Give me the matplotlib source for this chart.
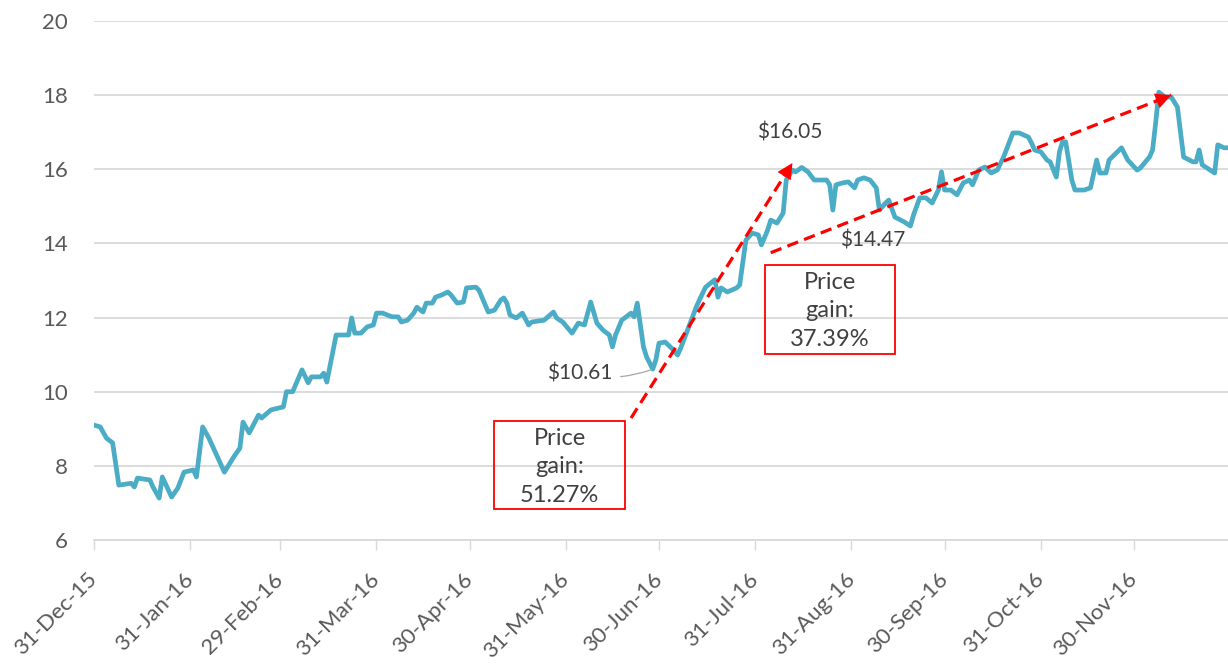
import matplotlib
matplotlib.use("Agg")
import matplotlib.pyplot as plt
import matplotlib.dates as mdates
from matplotlib.patches import Rectangle
import pandas as pd

plt.rcParams["font.family"] = ["Lato", "DejaVu Sans"]

# price series
dates = [
    "2015-12-31", "2016-01-02", "2016-01-04", "2016-01-06", "2016-01-08", "2016-01-12",
    "2016-01-13", "2016-01-14", "2016-01-18", "2016-01-19", "2016-01-21", "2016-01-22",
    "2016-01-25", "2016-01-27", "2016-01-29", "2016-02-01", "2016-02-02", "2016-02-04",
    "2016-02-06", "2016-02-11", "2016-02-14", "2016-02-16", "2016-02-17", "2016-02-19",
    "2016-02-22", "2016-02-23", "2016-02-26", "2016-03-01", "2016-03-02", "2016-03-04",
    "2016-03-07", "2016-03-09", "2016-03-10", "2016-03-13", "2016-03-14", "2016-03-15",
    "2016-03-18", "2016-03-22", "2016-03-23", "2016-03-24", "2016-03-26", "2016-03-28",
    "2016-03-30", "2016-03-31", "2016-04-02", "2016-04-05", "2016-04-07", "2016-04-08",
    "2016-04-10", "2016-04-12", "2016-04-13", "2016-04-15", "2016-04-16", "2016-04-18",
    "2016-04-19", "2016-04-21", "2016-04-23", "2016-04-24", "2016-04-26", "2016-04-28",
    "2016-04-29", "2016-05-02", "2016-05-03", "2016-05-06", "2016-05-08", "2016-05-10",
    "2016-05-11", "2016-05-12", "2016-05-13", "2016-05-15", "2016-05-17", "2016-05-19",
    "2016-05-20", "2016-05-24", "2016-05-27", "2016-05-28", "2016-05-30", "2016-06-02",
    "2016-06-04", "2016-06-06", "2016-06-08", "2016-06-10", "2016-06-12", "2016-06-14",
    "2016-06-15", "2016-06-16", "2016-06-18", "2016-06-21", "2016-06-22", "2016-06-23",
    "2016-06-25", "2016-06-26", "2016-06-28", "2016-06-29", "2016-06-30", "2016-07-02",
    "2016-07-04", "2016-07-06", "2016-07-07", "2016-07-12", "2016-07-13", "2016-07-15",
    "2016-07-18", "2016-07-19", "2016-07-20", "2016-07-22", "2016-07-25", "2016-07-26",
    "2016-07-28", "2016-07-30", "2016-08-01", "2016-08-02", "2016-08-04", "2016-08-05",
    "2016-08-07", "2016-08-09", "2016-08-10", "2016-08-12", "2016-08-13", "2016-08-15",
    "2016-08-17", "2016-08-19", "2016-08-23", "2016-08-24", "2016-08-25", "2016-08-26",
    "2016-08-28", "2016-08-30", "2016-09-01", "2016-09-02", "2016-09-04", "2016-09-06",
    "2016-09-08", "2016-09-09", "2016-09-11", "2016-09-12", "2016-09-14", "2016-09-17",
    "2016-09-19", "2016-09-20", "2016-09-22", "2016-09-24", "2016-09-26", "2016-09-28",
    "2016-09-29", "2016-09-30", "2016-10-02", "2016-10-04", "2016-10-06", "2016-10-08",
    "2016-10-09", "2016-10-11", "2016-10-13", "2016-10-15", "2016-10-17", "2016-10-19",
    "2016-10-22", "2016-10-24", "2016-10-27", "2016-10-28", "2016-10-29", "2016-10-31",
    "2016-11-02", "2016-11-03", "2016-11-05", "2016-11-06", "2016-11-07", "2016-11-08",
    "2016-11-10", "2016-11-11", "2016-11-14", "2016-11-16", "2016-11-18", "2016-11-19",
    "2016-11-21", "2016-11-22", "2016-11-26", "2016-11-28", "2016-12-01", "2016-12-02",
    "2016-12-05", "2016-12-06", "2016-12-07", "2016-12-08", "2016-12-10", "2016-12-12",
    "2016-12-14", "2016-12-16", "2016-12-19", "2016-12-20", "2016-12-21", "2016-12-22",
    "2016-12-26", "2016-12-27", "2016-12-29", "2016-12-30",
]
prices = [
    9.10, 9.05, 8.75, 8.62, 7.48, 7.53, 7.43, 7.67, 7.62, 7.43, 7.13, 7.70,
    7.16, 7.40, 7.83, 7.89, 7.70, 9.05, 8.75, 7.83, 8.24, 8.48, 9.18, 8.89,
    9.37, 9.29, 9.51, 9.59, 10.00, 10.00, 10.59, 10.24, 10.40, 10.40, 10.50, 10.26,
    11.53, 11.53, 11.99, 11.58, 11.58, 11.75, 11.80, 12.12, 12.12, 12.02, 12.02, 11.88,
    11.93, 12.12, 12.28, 12.15, 12.39, 12.39, 12.55, 12.61, 12.69, 12.61, 12.39, 12.42,
    12.80, 12.82, 12.74, 12.15, 12.20, 12.47, 12.53, 12.39, 12.07, 11.99, 12.12, 11.80,
    11.88, 11.93, 12.15, 11.99, 11.88, 11.58, 11.85, 11.80, 12.42, 11.85, 11.66, 11.53,
    11.21, 11.53, 11.93, 12.12, 12.02, 12.39, 11.21, 10.94, 10.61, 10.86, 11.31, 11.34,
    11.18, 10.99, 11.18, 12.28, 12.47, 12.82, 13.02, 12.55, 12.80, 12.69, 12.80, 12.88,
    14.09, 14.28, 14.23, 13.96, 14.36, 14.63, 14.55, 14.82, 15.71, 15.98, 15.93, 16.05,
    15.93, 15.71, 15.71, 15.58, 14.90, 15.58, 15.63, 15.66, 15.50, 15.71, 15.77, 15.71,
    15.50, 14.90, 15.09, 15.17, 14.71, 14.58, 14.47, 14.77, 15.23, 15.23, 15.09, 15.44,
    15.93, 15.44, 15.44, 15.31, 15.63, 15.71, 15.58, 15.98, 16.06, 15.90, 15.98, 16.33,
    16.98, 16.98, 16.87, 16.71, 16.52, 16.47, 16.25, 16.20, 15.79, 16.47, 16.74, 16.74,
    15.71, 15.44, 15.44, 15.50, 16.25, 15.90, 15.90, 16.25, 16.58, 16.25, 15.98, 16.03,
    16.33, 16.52, 17.25, 18.08, 17.95, 17.95, 17.68, 16.33, 16.20, 16.20, 16.52, 16.12,
    15.90, 16.66, 16.58, 16.58,
]

tick_dates = ["2015-12-31", "2016-01-31", "2016-02-29", "2016-03-31", "2016-04-30",
              "2016-05-31", "2016-06-30", "2016-07-31", "2016-08-31", "2016-09-30",
              "2016-10-31", "2016-11-30"]
y_ticks = [6, 8, 10, 12, 14, 16, 18, 20]

# trend arrows (start -> tip)
arrow_starts = [("2016-06-21", 9.29), ("2016-08-05", 13.75)]
arrow_tips = [("2016-08-12", 16.17), ("2016-12-12", 18.00)]

# price callouts
price_labels = ["$16.05", "$14.47"]
price_label_pos = [("2016-08-11", 16.98), ("2016-09-07", 14.07)]
low_label = "$10.61"
low_point = ("2016-06-28", 10.61)
low_text_pos = ("2016-06-15", 10.48)

# "Price gain" boxes: (left date, right date, bottom, top)
gain_texts = ["Price\ngain:\n51.27%", "Price\ngain:\n37.39%"]
gain_boxes = [("2016-05-08", "2016-06-19", 6.84, 9.21),
              ("2016-08-03", "2016-09-14", 11.02, 13.42)]
gain_text_y = [7.97, 12.18]

x = pd.to_datetime(dates)

fig = plt.figure(figsize=(12.28, 6.64), dpi=100)
ax = fig.add_axes([94 / 1228, 1 - 540 / 664, 1 - 94 / 1228, 519 / 664])

ax.plot(x, prices, color="#4BACC6", lw=3.4, solid_joinstyle="round", zorder=3)

# dashed trend arrows
for (s_d, s_v), (t_d, t_v) in zip(arrow_starts, arrow_tips):
    s = mdates.date2num(pd.Timestamp(s_d))
    t = mdates.date2num(pd.Timestamp(t_d))
    ax.plot([s, t], [s_v, t_v], color="#FF0000", lw=2.3, ls=(0, (3.6, 2.0)), zorder=4)
    bx = t - 0.04 * (t - s)
    by = t_v - 0.04 * (t_v - s_v)
    ax.annotate("", xy=(t, t_v), xytext=(bx, by),
                arrowprops=dict(arrowstyle="-|>", color="#FF0000", lw=0,
                                mutation_scale=28, shrinkA=0, shrinkB=0), zorder=5)

for txt, (d, v) in zip(price_labels, price_label_pos):
    ax.text(pd.Timestamp(d), v, txt.replace("$", r"\$"), ha="center", va="center",
            fontsize=15, color="#404040", zorder=6)

ax.annotate(low_label.replace("$", r"\$"), xy=(pd.Timestamp(low_point[0]), low_point[1]),
            xytext=(pd.Timestamp(low_text_pos[0]), low_text_pos[1]),
            ha="right", va="center", fontsize=15, color="#404040",
            arrowprops=dict(arrowstyle="-", color="#A6A6A6", lw=0.9,
                            connectionstyle="arc3,rad=0.15", shrinkA=4, shrinkB=1))

for txt, (l, r, b, t), ty in zip(gain_texts, gain_boxes, gain_text_y):
    x0 = mdates.date2num(pd.Timestamp(l))
    x1 = mdates.date2num(pd.Timestamp(r))
    ax.add_patch(Rectangle((x0, b), x1 - x0, t - b, fill=False,
                           edgecolor="#FF0000", lw=1.3, zorder=5))
    ax.text((x0 + x1) / 2, ty, txt, ha="center", va="center", fontsize=17,
            color="#404040", linespacing=1.45, zorder=6)

ax.set_ylim(6, 20)
ax.set_yticks(y_ticks)
ax.set_xlim(mdates.date2num(pd.Timestamp("2015-12-31")),
            mdates.date2num(pd.Timestamp("2016-12-30")) + 0.3)
ax.set_xticks(pd.to_datetime(tick_dates))
ax.xaxis.set_major_formatter(mdates.DateFormatter("%d-%b-%y"))

ax.grid(axis="y", color="#D9D9D9", lw=1.3)
ax.set_axisbelow(True)
for side in ["left", "right", "top"]:
    ax.spines[side].set_visible(False)
ax.spines["bottom"].set_color("#D9D9D9")
ax.spines["bottom"].set_linewidth(1.3)

ax.tick_params(axis="y", length=0, pad=19, labelsize=16, labelcolor="#595959")
ax.tick_params(axis="x", length=7, width=1, color="#D9D9D9", pad=19,
               labelsize=16, labelcolor="#595959")
for lab in ax.get_xticklabels():
    lab.set_rotation(45)
    lab.set_ha("right")
    lab.set_va("center")
    lab.set_rotation_mode("anchor")

fig.savefig("out.png", dpi=100)
